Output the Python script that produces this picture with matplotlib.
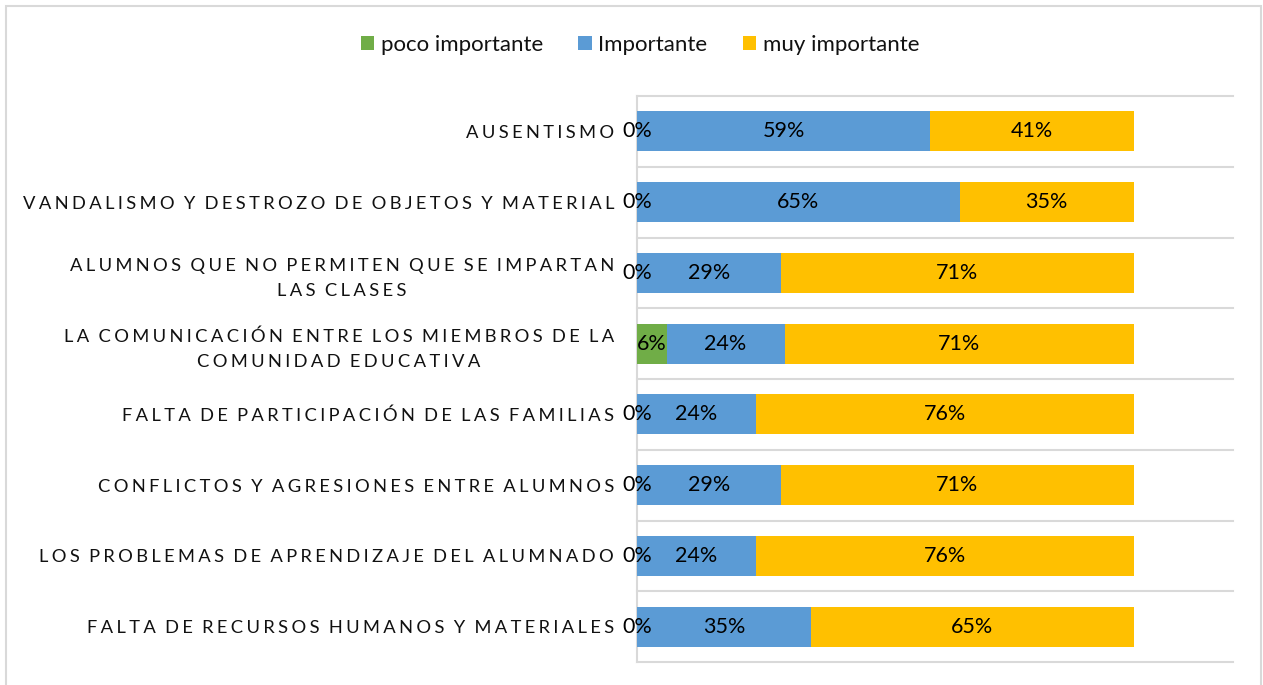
import matplotlib.pyplot as plt
from matplotlib.patches import Rectangle
import numpy as np

plt.rcParams["font.family"] = ["Lato", "DejaVu Sans"]

categorias = [
    "AUSENTISMO",
    "VANDALISMO Y DESTROZO DE OBJETOS Y MATERIAL",
    "ALUMNOS QUE NO PERMITEN QUE SE IMPARTAN\nLAS CLASES",
    "LA COMUNICACIÓN ENTRE LOS MIEMBROS DE LA\nCOMUNIDAD EDUCATIVA",
    "FALTA DE PARTICIPACIÓN DE LAS FAMILIAS",
    "CONFLICTOS Y AGRESIONES ENTRE ALUMNOS",
    "LOS PROBLEMAS DE APRENDIZAJE DEL ALUMNADO",
    "FALTA DE RECURSOS HUMANOS Y MATERIALES",
]

poco_importante = [0, 0, 0, 6, 0, 0, 0, 0]
importante = [59, 65, 29, 24, 24, 29, 24, 35]
muy_importante = [41, 35, 71, 71, 76, 71, 76, 65]

series = ["poco importante", "Importante", "muy importante"]
colores = ["#70AD47", "#5B9BD5", "#FFC000"]


def espaciar(texto):
    # imita el espaciado de caracteres ampliado de Excel
    lineas = []
    for linea in texto.split("\n"):
        palabras = ["\u2009\u200a".join(p) for p in linea.split(" ")]
        lineas.append("\u2009 \u2009".join(palabras))
    return "\n".join(lineas)


valores = np.array([poco_importante, importante, muy_importante], dtype=float)
totales = valores.sum(axis=0)
fracciones = valores / totales

fig = plt.figure(figsize=(12.63, 6.85), dpi=100)
ax = fig.add_axes([637 / 1263, 1 - 662 / 685, (1233 - 637) / 1263, (662 - 96) / 685])

y = np.arange(len(categorias))
izquierda = np.zeros(len(categorias))
for i in range(3):
    barras = ax.barh(y, fracciones[i], left=izquierda, height=0.565,
                     color=colores[i], label=series[i], zorder=3)
    ax.bar_label(barras, labels=[f"{int(v)}%" for v in valores[i]],
                 label_type="center", fontsize=15.5, color="black", zorder=4)
    izquierda += fracciones[i]

ax.set_xlim(0, 1.2)
ax.set_ylim(len(categorias) - 0.5, -0.5)

for b in np.arange(-0.5, len(categorias), 1.0):
    ax.axhline(b, color="#D9D9D9", linewidth=1.5, zorder=1, clip_on=False)

ax.set_yticks(y)
ax.set_yticklabels([espaciar(c) for c in categorias], fontsize=13.2,
                   color="#111111", multialignment="center", linespacing=1.65)
ax.tick_params(axis="y", length=0, pad=16.5)
ax.set_xticks([])

for lado in ["top", "right", "bottom"]:
    ax.spines[lado].set_visible(False)
ax.spines["left"].set_color("#D9D9D9")
ax.spines["left"].set_linewidth(1.5)

fig.legend(loc="center", bbox_to_anchor=(640 / 1263, 1 - 45 / 685), ncol=3,
           frameon=False, fontsize=16, handlelength=0.6, handleheight=0.6,
           handletextpad=0.3, columnspacing=1.6, labelcolor="#111111")

fig.patches.append(Rectangle((6 / 1263, -0.05), 1255 / 1263, 1 - 6 / 685 + 0.05,
                             transform=fig.transFigure, fill=False,
                             edgecolor="#D9D9D9", linewidth=1.5))

fig.savefig("out.png", dpi=100)
